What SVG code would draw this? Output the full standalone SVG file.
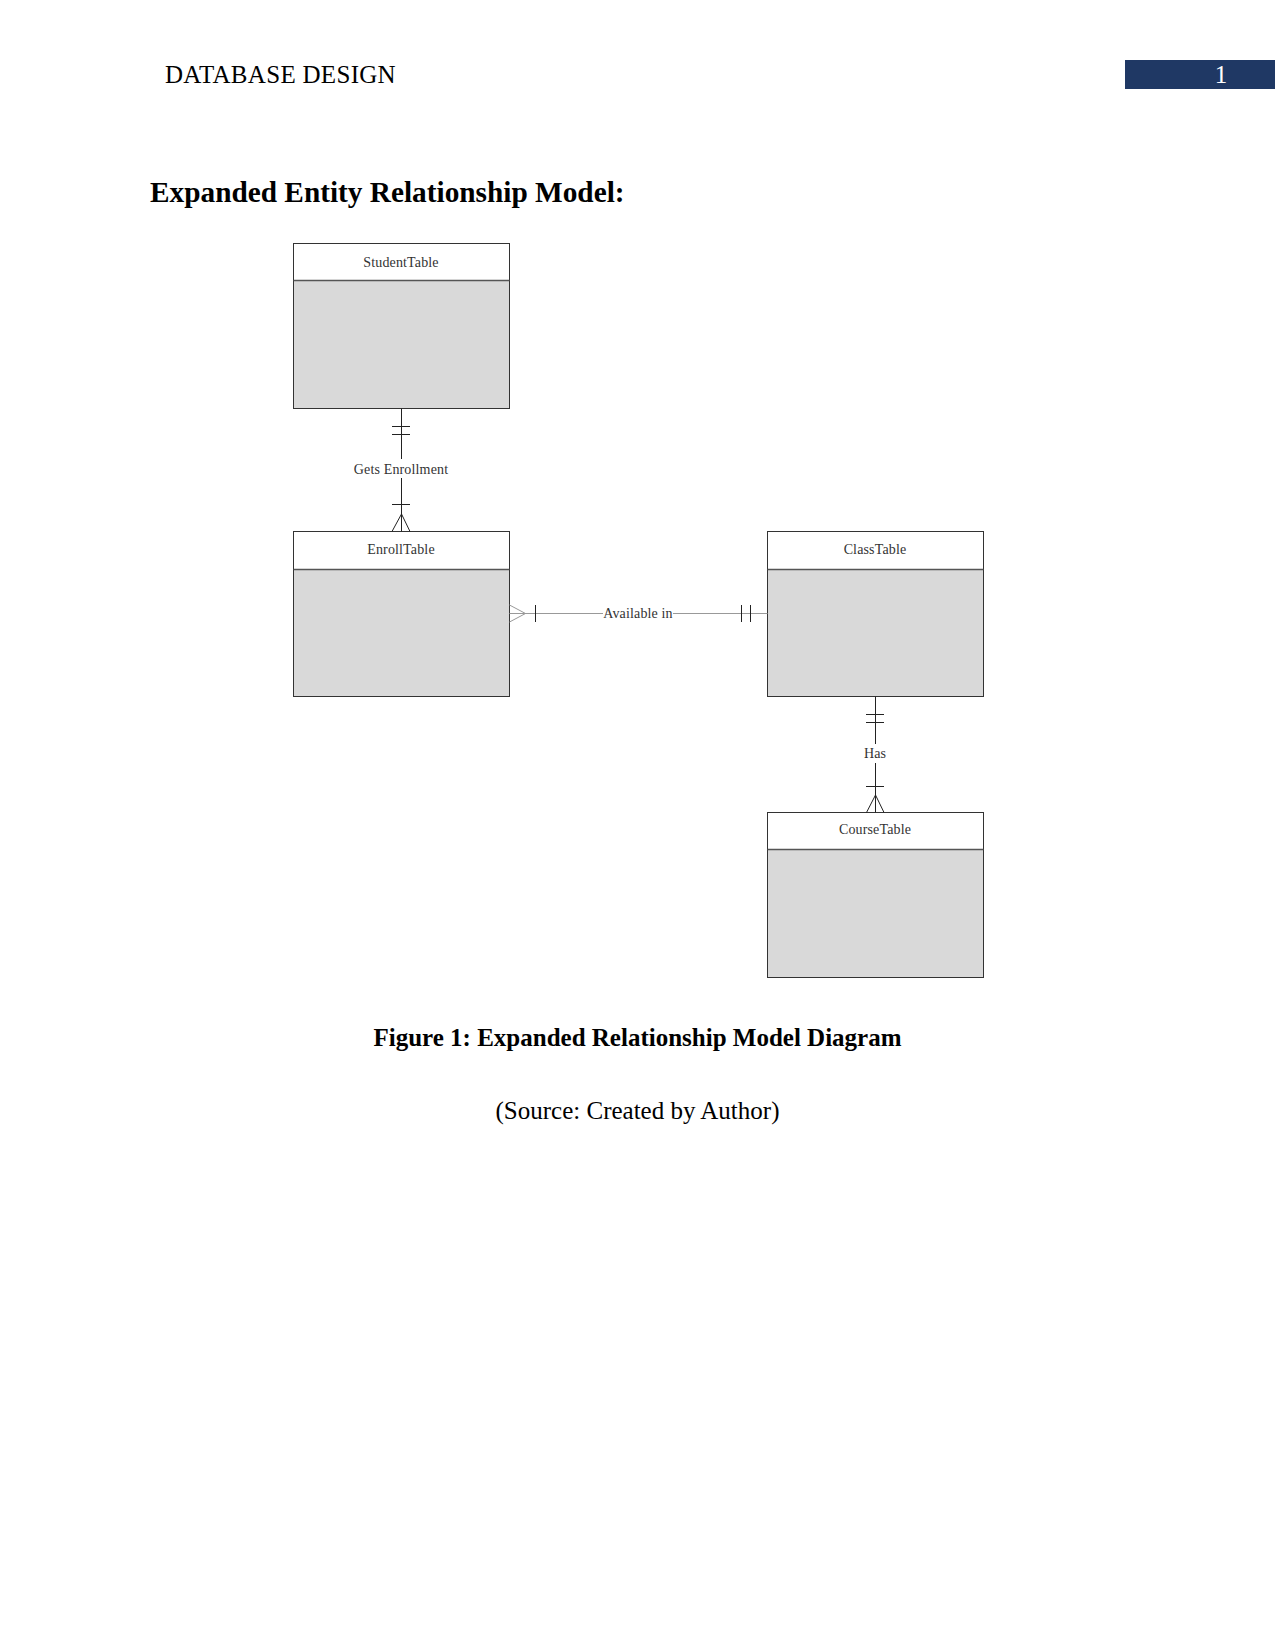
<svg xmlns="http://www.w3.org/2000/svg" width="1275" height="1650" viewBox="0 0 1275 1650">
<style>
.page{font-family:"Liberation Serif","Times New Roman",serif;fill:#000}
.lbl{font-family:"Liberation Serif","Times New Roman",serif;font-size:14px;fill:#333;text-anchor:middle;letter-spacing:0.15px}
.box{fill:#fff;stroke:#333;stroke-width:1}
.body{fill:#d9d9d9;stroke:#333;stroke-width:1}
.div{stroke:#555;stroke-width:1.5}
.ln{stroke:#222;stroke-width:1;fill:none}
.lg{stroke:#999;stroke-width:1;fill:none}
</style>
<rect x="0" y="0" width="1275" height="1650" fill="#fff"/>
<text class="page" x="165" y="83" font-size="25" letter-spacing="0.3">DATABASE DESIGN</text>
<rect x="1125" y="60" width="150" height="29" fill="#1f3864"/>
<text class="page" x="1221" y="83" font-size="25" style="fill:#fff" text-anchor="middle">1</text>
<text class="page" x="150" y="202" font-size="29.3" font-weight="bold">Expanded Entity Relationship Model:</text>

<g id="student">
<rect class="body" x="293.5" y="243.5" width="216" height="165"/>
<rect class="box" x="293.5" y="243.5" width="216" height="37"/>
<line class="div" x1="293.5" y1="280.5" x2="509.5" y2="280.5"/>
<text class="lbl" x="401" y="267">StudentTable</text>
</g>
<g id="enroll">
<rect class="body" x="293.5" y="531.5" width="216" height="165"/>
<rect class="box" x="293.5" y="531.5" width="216" height="38"/>
<line class="div" x1="293.5" y1="569.5" x2="509.5" y2="569.5"/>
<text class="lbl" x="401" y="554">EnrollTable</text>
</g>
<g id="class">
<rect class="body" x="767.5" y="531.5" width="216" height="165"/>
<rect class="box" x="767.5" y="531.5" width="216" height="38"/>
<line class="div" x1="767.5" y1="569.5" x2="983.5" y2="569.5"/>
<text class="lbl" x="875" y="554">ClassTable</text>
</g>
<g id="course">
<rect class="body" x="767.5" y="812.5" width="216" height="165"/>
<rect class="box" x="767.5" y="812.5" width="216" height="37"/>
<line class="div" x1="767.5" y1="849.5" x2="983.5" y2="849.5"/>
<text class="lbl" x="875" y="834">CourseTable</text>
</g>

<g id="connectors">
<line class="ln" x1="401.5" y1="408.5" x2="401.5" y2="459"/>
<line class="ln" x1="401.5" y1="478" x2="401.5" y2="531.5"/>
<line class="ln" x1="392" y1="426.5" x2="410" y2="426.5"/>
<line class="ln" x1="392" y1="434.5" x2="410" y2="434.5"/>
<line class="ln" x1="392" y1="504.5" x2="410" y2="504.5"/>
<path class="ln" d="M392 531.5 L401.5 514 L410 531.5"/>
<text class="lbl" x="401" y="474">Gets Enrollment</text>
<line class="lg" x1="509.5" y1="613.5" x2="603" y2="613.5"/>
<line class="lg" x1="673" y1="613.5" x2="767.5" y2="613.5"/>
<path class="lg" d="M509.5 605 L525.5 613.5 L509.5 622"/>
<line class="ln" x1="535.5" y1="605" x2="535.5" y2="622"/>
<line class="ln" x1="741.5" y1="605" x2="741.5" y2="622"/>
<line class="ln" x1="750.5" y1="605" x2="750.5" y2="622"/>
<text class="lbl" x="638" y="618">Available in</text>
<line class="ln" x1="875.5" y1="696.5" x2="875.5" y2="744"/>
<line class="ln" x1="875.5" y1="763" x2="875.5" y2="812.5"/>
<line class="ln" x1="866" y1="714.5" x2="884" y2="714.5"/>
<line class="ln" x1="866" y1="722.5" x2="884" y2="722.5"/>
<line class="ln" x1="866" y1="786.5" x2="884" y2="786.5"/>
<path class="ln" d="M866.5 812.5 L875.5 795 L884 812.5"/>
<text class="lbl" x="875" y="758">Has</text>
</g>

<text class="page" x="637.5" y="1046" font-size="25" font-weight="bold" text-anchor="middle">Figure 1: Expanded Relationship Model Diagram</text>
<text class="page" x="637.5" y="1119" font-size="25" text-anchor="middle">(Source: Created by Author)</text>
</svg>
